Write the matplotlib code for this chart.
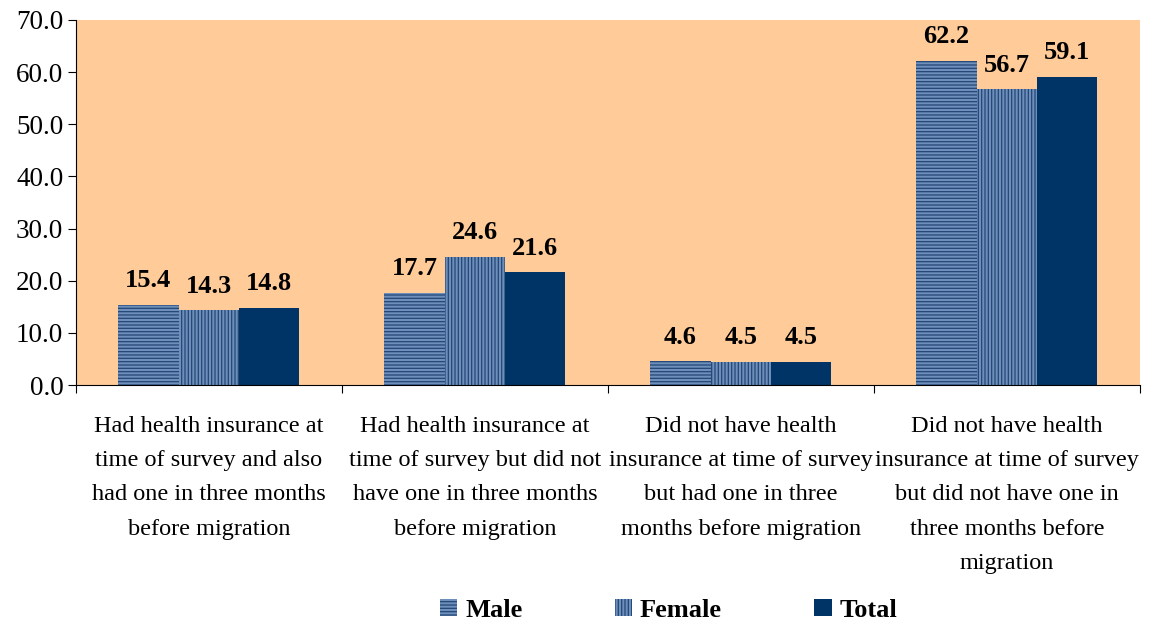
import numpy as np
import matplotlib.pyplot as plt

plt.rcParams['font.family'] = ['Liberation Serif', 'DejaVu Serif']
plt.rcParams['hatch.linewidth'] = 0.9

categories = ['Had health insurance at\ntime of survey and also\nhad one in three months\nbefore migration',
              'Had health insurance at\ntime of survey but did not\nhave one in three months\nbefore migration',
              'Did not have health\ninsurance at time of survey\nbut had one in three\nmonths before migration',
              'Did not have health\ninsurance at time of survey\nbut did not have one in\nthree months before\nmigration']
male = [15.4, 17.7, 4.6, 62.2]
female = [14.3, 24.6, 4.5, 56.7]
total = [14.8, 21.6, 4.5, 59.1]
series = ['Male', 'Female', 'Total']

fig = plt.figure(figsize=(11.49, 6.22), dpi=100)
ax = fig.add_axes([0.066, 0.381, 0.926, 0.587])
ax.set_facecolor('#FFCC99')

x = np.arange(len(categories))
w = 0.227
styles = [dict(color='#6E8FBA', edgecolor='#234677', hatch='-----'),
          dict(color='#6E8FBA', edgecolor='#234677', hatch='|||||'),
          dict(color='#003366', edgecolor='#003366', hatch=None)]

for i, (vals, name) in enumerate(zip([male, female, total], series)):
    st = styles[i]
    bars = ax.bar(x + (i - 1) * w, vals, w, color=st['color'], edgecolor=st['edgecolor'],
                  hatch=st['hatch'], linewidth=0, label=name)
    for b, v in zip(bars, vals):
        ax.annotate(f'{v:.1f}', (b.get_x() + b.get_width() / 2, v), xytext=(0, 9),
                    textcoords='offset points', ha='center', va='bottom',
                    fontsize=19, fontweight='bold')

ax.set_xlim(-0.5, len(categories) - 0.5)
ax.set_ylim(0, 70)
ax.set_yticks(np.arange(0, 71, 10))
ax.set_yticklabels([f'{t:.1f}' for t in np.arange(0, 71, 10)], fontsize=19.5)
ax.set_xticks(np.arange(-0.5, len(categories), 1))
ax.set_xticklabels([])
ax.set_xticks(x, minor=True)
ax.set_xticklabels(categories, minor=True, fontsize=17.5, linespacing=1.84)
ax.tick_params(axis='x', which='minor', length=0, pad=22)
ax.tick_params(axis='x', which='major', length=6, direction='out')
ax.tick_params(axis='y', length=6, direction='out', pad=3)
for s in ['top', 'right']:
    ax.spines[s].set_visible(False)

fig.legend(loc='lower center', bbox_to_anchor=(0.582, -0.038), ncol=3, frameon=False,
           prop={'family': 'Liberation Serif', 'size': 19, 'weight': 'bold'},
           handlelength=0.65, handleheight=0.65, handletextpad=0.3, columnspacing=3.5)

fig.savefig('out.png', dpi=100)
